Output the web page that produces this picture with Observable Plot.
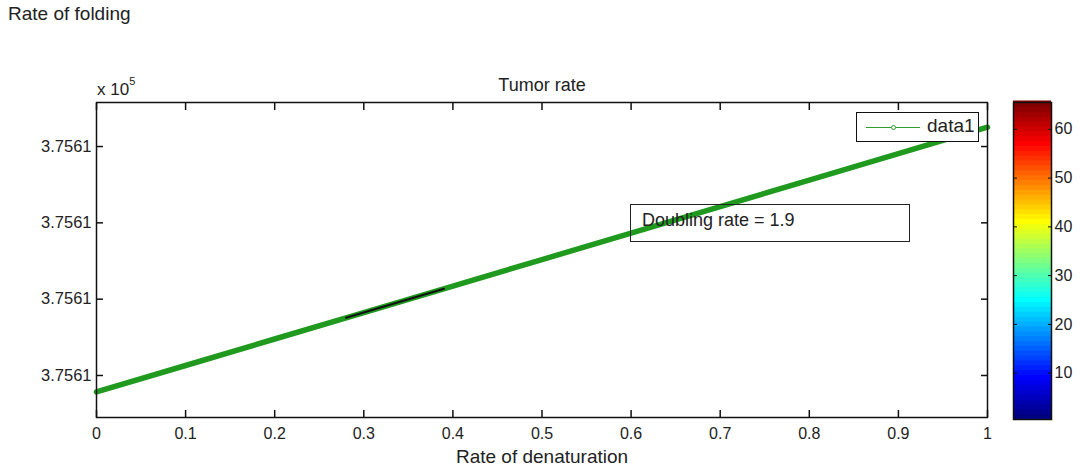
<!DOCTYPE html>
<html>
<head>
<meta charset="utf-8">
<script src="https://cdn.jsdelivr.net/npm/d3@7"></script>
<script src="https://cdn.jsdelivr.net/npm/@observablehq/plot@0.6"></script>
<style>
  html, body { margin: 0; padding: 0; background: #fff; }
  #wrap { position: relative; width: 1080px; height: 467px; overflow: hidden; font-family: "Liberation Sans", Arial, sans-serif; color: #222; }
  #title { position: absolute; left: 8px; top: 2px; font-size: 19px; height: 28px; line-height: 24px; }
  #main { position: absolute; left: 0; top: 30px; }
  #cbar { position: absolute; left: 1000px; top: 30px; }
  #expo { position: absolute; left: 97px; top: 78px; font-size: 17px; white-space: nowrap; }
  #expo sup { font-size: 11px; position: relative; top: -3px; }
  #legend { position: absolute; left: 856px; top: 112px; width: 121px; height: 28px; border: 1.5px solid #111; background: #fff; }
  #legend .ln { position: absolute; left: 9px; top: 13.5px; width: 54px; height: 0; border-top: 1.2px solid #2e9e2e; }
  #legend .mk { position: absolute; left: 34px; top: 12px; width: 3px; height: 3px; border: 1px solid #2e9e2e; border-radius: 50%; background: #fff; }
  #legend .tx { position: absolute; left: 70px; top: 2px; font-size: 19px; line-height: 22px; }
  #note { position: absolute; left: 630px; top: 204px; width: 278px; height: 36px; border: 1.5px solid #222; background: transparent; }
  #note .tx { position: absolute; left: 11px; top: 4px; font-size: 18px; line-height: 22px; white-space: nowrap; }
</style>
</head>
<body>
<div id="wrap">
  <div id="title">Rate of folding</div>
  <div id="main"></div>
  <div id="cbar"></div>
  <div id="expo">x 10<sup>5</sup></div>
  <div id="legend"><div class="ln"></div><div class="mk"></div><div class="tx">data1</div></div>
  <div id="note"><div class="tx">Doubling rate = 1.9</div></div>
</div>
<script>
// ---- data ----
const xValues = [0, 0.1, 0.2, 0.3, 0.4, 0.5, 0.6, 0.7, 0.8, 0.9, 1];
const yValues = [375610.1568, 375610.2262, 375610.2956, 375610.3650, 375610.4343, 375610.5037,
                 375610.5731, 375610.6425, 375610.7119, 375610.7812, 375610.8506];
const segX = [0.28, 0.39];
const segY = [375610.3511, 375610.4274];
const xTicks = [0, 0.1, 0.2, 0.3, 0.4, 0.5, 0.6, 0.7, 0.8, 0.9, 1];
const xTickLabels = ["0", "0.1", "0.2", "0.3", "0.4", "0.5", "0.6", "0.7", "0.8", "0.9", "1"];
const yTicks = [375610.2, 375610.4, 375610.6, 375610.8];
const yTickLabels = ["3.7561", "3.7561", "3.7561", "3.7561"];
const yDomain = [375610.0899, 375610.9154];
const cbTicks = [10, 20, 30, 40, 50, 60];
const cbDomain = [0.5, 65.5];
const cbLevels = d3.range(1, 66);
const jetStops = [0, 1/8, 3/8, 5/8, 7/8, 1];
const jetColors = ["#000080", "#0000ff", "#00ffff", "#ffff00", "#ff0000", "#800000"];

const points = xValues.map((x, i) => ({x, y: yValues[i]}));
const seg = segX.map((x, i) => ({x, y: segY[i]}));
const green = "#1f9a1f";

const font = {fontFamily: "'Liberation Sans', Arial, sans-serif", fontSize: "16px", color: "#222", background: "transparent", overflow: "visible"};

const main = Plot.plot({
  width: 1080, height: 437,
  marginTop: 72, marginBottom: 50, marginLeft: 96, marginRight: 93,
  style: font,
  x: {domain: [0, 1]},
  y: {domain: yDomain},
  marks: [
    Plot.line(points, {x: "x", y: "y", stroke: green, strokeWidth: 5.5}),
    Plot.line(seg, {x: "x", y: "y", stroke: "#111", strokeWidth: 2}),
    Plot.frame({stroke: "#111", strokeWidth: 1.5}),
    Plot.axisX({ticks: xTicks, tickSize: 0, tickPadding: 10, label: null, fontSize: 16,
      tickFormat: d => xTickLabels[xTicks.indexOf(d)]}),
    Plot.axisX({ticks: xTicks, anchor: "bottom", tickSize: 7, dy: -7, fill: "none", stroke: "#111", strokeWidth: 1.5, label: null}),
    Plot.axisX({ticks: xTicks, anchor: "top", tickSize: 7, dy: 7, fill: "none", stroke: "#111", strokeWidth: 1.5, label: null}),
    Plot.axisY({ticks: yTicks, tickSize: 0, tickPadding: 5, label: null, fontSize: 16.5,
      tickFormat: d => yTickLabels[yTicks.indexOf(d)]}),
    Plot.axisY({ticks: yTicks, anchor: "left", tickSize: 7, dx: 7, fill: "none", stroke: "#111", strokeWidth: 1.5, label: null}),
    Plot.axisY({ticks: yTicks, anchor: "right", tickSize: 7, dx: -7, fill: "none", stroke: "#111", strokeWidth: 1.5, label: null}),
    Plot.text(["Rate of denaturation"], {frameAnchor: "bottom", dy: 39, lineAnchor: "middle", fontSize: 19, fill: "#222"}),
    Plot.text(["Tumor rate"], {frameAnchor: "top", dy: -17, lineAnchor: "middle", fontSize: 18, fill: "#222"})
  ]
});
document.getElementById("main").append(main);

const jet = d3.scaleLinear().domain(jetStops).range(jetColors).interpolate(d3.interpolateRgb);

const cbar = Plot.plot({
  width: 80, height: 437,
  marginTop: 72, marginBottom: 48, marginLeft: 13, marginRight: 29,
  style: font,
  x: {domain: [0, 1], axis: null},
  y: {domain: cbDomain},
  color: {domain: [1, 65], interpolate: t => jet(t)},
  marks: [
    Plot.rect(cbLevels, {x1: 0, x2: 1, y1: d => d - 0.5, y2: d => d + 0.5, fill: d => d, inset: 0, insetTop: -1.5}),
    Plot.frame({stroke: "#111", strokeWidth: 1.5}),
    Plot.axisY({ticks: cbTicks, anchor: "right", tickSize: 0, tickPadding: 3, label: null, fontSize: 16}),
    Plot.axisY({ticks: cbTicks, anchor: "right", tickSize: 4, dx: -4, fill: "none", stroke: "#111", label: null}),
    Plot.axisY({ticks: cbTicks, anchor: "left", tickSize: 4, dx: 4, fill: "none", stroke: "#111", label: null})
  ]
});
document.getElementById("cbar").append(cbar);
</script>
</body>
</html>
